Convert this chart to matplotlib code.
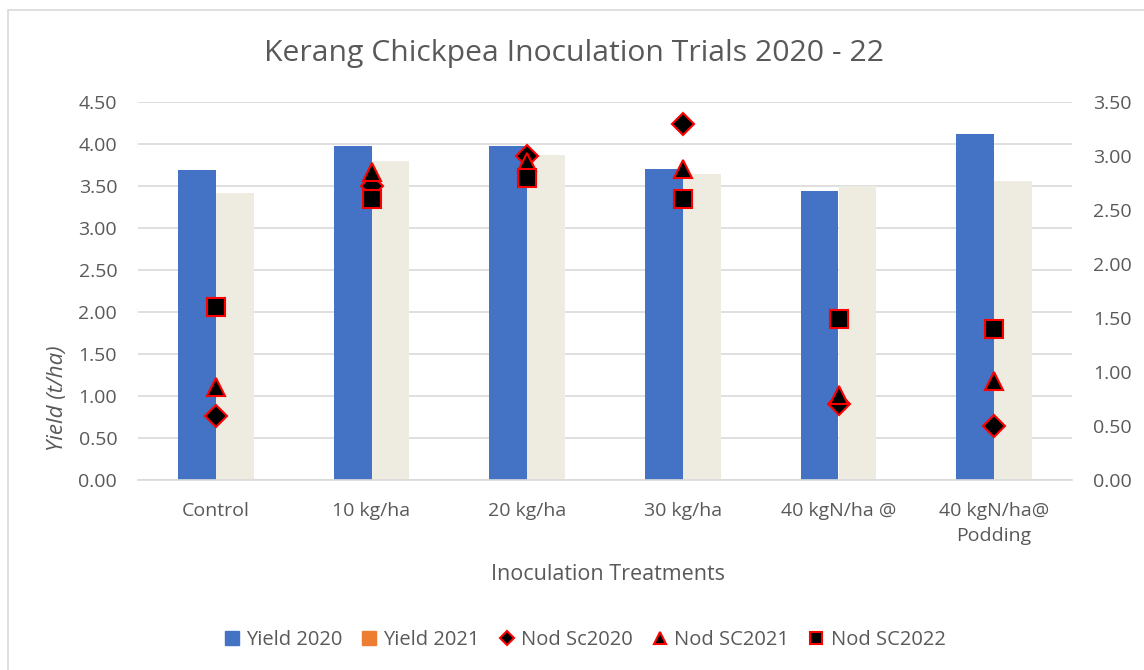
import matplotlib
matplotlib.use('Agg')
import matplotlib.pyplot as plt
import numpy as np
from matplotlib.lines import Line2D
from matplotlib.patches import Patch, Rectangle

# dades llegides del gràfic
categories = ['Control', '10 kg/ha', '20 kg/ha', '30 kg/ha', '40 kgN/ha @', '40 kgN/ha@\nPodding']
yield_2020 = [3.69, 3.98, 3.98, 3.70, 3.44, 4.12]
yield_2021 = [3.42, 3.80, 3.87, 3.65, 3.50, 3.56]
nod_sc2020 = [0.59, 2.72, 3.00, 3.30, 0.70, 0.50]
nod_sc2021 = [0.86, 2.85, 2.95, 2.88, 0.79, 0.92]
nod_sc2022 = [1.60, 2.60, 2.80, 2.60, 1.49, 1.40]

left_ticks = np.arange(0, 4.51, 0.5)
right_ticks = np.arange(0, 3.51, 0.5)

W, H = 1144, 670
text_col = '#595959'
grid_col = '#D9D9D9'
plt.rcParams['font.family'] = ['Open Sans', 'DejaVu Sans']

fig = plt.figure(figsize=(W / 100, H / 100), dpi=100)
# marc del gràfic (només vora esquerra i superior dins la imatge)
fig.patches.append(Rectangle((7.5 / W, -0.5), 2, 1.5 - 10 / H, transform=fig.transFigure,
                             fill=False, edgecolor=grid_col, lw=1.2))

ax = fig.add_axes([138 / W, 1 - 480 / H, (1072 - 138) / W, (480 - 102.3) / H])
x = np.arange(len(categories))
bw = 0.242
ax.bar(x - bw / 2, yield_2020, bw, color='#4472C4', zorder=2)
ax.bar(x + bw / 2, yield_2021, bw, color='#EEECE1', zorder=2)
ax.set_xlim(-0.5, len(categories) - 0.5)
ax.set_ylim(0, 4.5)
ax.set_yticks(left_ticks)
ax.set_yticklabels([f'{v:.2f}' for v in left_ticks])
ax.set_xticks(x)
ax.set_xticklabels(categories, linespacing=1.45)
ax.grid(axis='y', color=grid_col, lw=1.2, zorder=0)
for s in ['top', 'right', 'left']:
    ax.spines[s].set_visible(False)
ax.spines['bottom'].set_color(grid_col)
ax.spines['bottom'].set_linewidth(1.2)
ax.tick_params(length=0, labelsize=14, colors=text_col)
ax.tick_params(axis='y', pad=15)
ax.tick_params(axis='x', pad=16)

ax2 = ax.twinx()
ax2.set_ylim(0, 3.5)
ax2.set_yticks(right_ticks)
ax2.set_yticklabels([f'{v:.2f}' for v in right_ticks])
for s in ax2.spines.values():
    s.set_visible(False)
ax2.tick_params(length=0, labelsize=14, colors=text_col, pad=15)

mk = dict(linestyle='none', markerfacecolor='black', markeredgecolor='#FF0000',
          markeredgewidth=1.5, zorder=4)
ax2.plot(x, nod_sc2020, marker='D', markersize=11, **mk)
ax2.plot(x, nod_sc2021, marker='^', markersize=13, **mk)
ax2.plot(x, nod_sc2022, marker='s', markersize=12.5, **mk)

fig.text(574.5 / W, 1 - 53 / H, 'Kerang Chickpea Inoculation Trials 2020 - 22',
         ha='center', va='center', fontsize=21.7, color=text_col)
fig.text(608 / W, 1 - 574 / H, 'Inoculation Treatments', ha='center', va='center',
         fontsize=15.5, color=text_col)
fig.text(58 / W, 1 - 398 / H, 'Yield (t/ha)', ha='center', va='center', rotation=90,
         fontsize=16, style='italic', color=text_col)

handles = [
    Patch(color='#4472C4', label='Yield 2020'),
    Patch(color='#ED7D31', label='Yield 2021'),
    Line2D([], [], marker='D', markersize=7, label='Nod Sc2020', **mk),
    Line2D([], [], marker='^', markersize=8, label='Nod SC2021', **mk),
    Line2D([], [], marker='s', markersize=8, label='Nod SC2022', **mk),
]
leg = fig.legend(handles=handles, loc='center', bbox_to_anchor=(585 / W, 1 - 640 / H),
                 ncol=5, frameon=False, fontsize=14.5, handlelength=0.7, handleheight=0.7,
                 handletextpad=0.35, columnspacing=1.0, labelcolor=text_col)

fig.savefig('out.png', dpi=100)
